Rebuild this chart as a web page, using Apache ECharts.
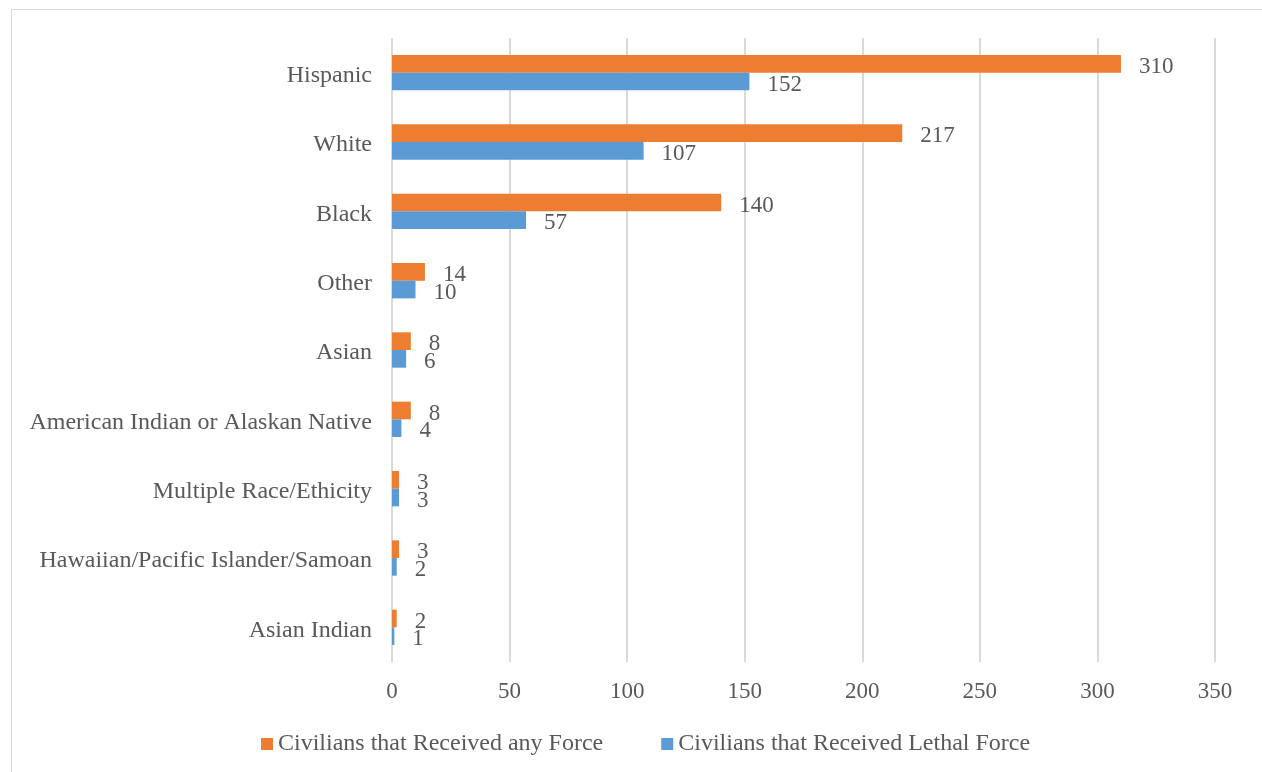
<!DOCTYPE html>
<html>
<head>
<meta charset="utf-8">
<script src="https://cdn.jsdelivr.net/npm/echarts@6/dist/echarts.min.js"></script>
<style>
  html, body { margin: 0; padding: 0; background: #fff; }
  #frame { position: absolute; left: 11px; top: 9px; width: 1260px; height: 775px; border: 1px solid #d9d9d9; box-sizing: border-box; }
  #chart { position: absolute; left: 0; top: 0; width: 1262px; height: 772px; }
</style>
</head>
<body>
<div id="frame"></div>
<div id="chart"></div>
<script>
// categories listed bottom to top
const categories = [
  'Asian Indian',
  'Hawaiian/Pacific Islander/Samoan',
  'Multiple Race/Ethicity',
  'American Indian or Alaskan Native',
  'Asian',
  'Other',
  'Black',
  'White',
  'Hispanic'
];
const anyForce = [2, 3, 3, 8, 8, 14, 140, 217, 310];
const lethalForce = [1, 2, 3, 4, 6, 10, 57, 107, 152];
const seriesNames = ['Civilians that Received any Force', 'Civilians that Received Lethal Force'];

const font = 'Liberation Serif';
const textColor = '#595959';

const chart = echarts.init(document.getElementById('chart'));

const labelStyle = {
  show: true,
  position: 'right',
  distance: 18,
  offset: [0, 3],
  color: textColor,
  fontFamily: font,
  fontSize: 23,
  textBorderWidth: 0,
  textBorderColor: 'transparent'
};

chart.setOption({
  animation: false,
  textStyle: { fontFamily: font },
  grid: { left: 392, right: 47, top: 38, bottom: 110, containLabel: false },
  legend: {
    top: 727,
    left: 256,
    itemWidth: 12,
    itemHeight: 12,
    itemGap: 58,
    icon: 'rect',
    textStyle: { color: textColor, fontFamily: font, fontSize: 24 },
    data: seriesNames
  },
  xAxis: {
    type: 'value',
    min: 0,
    max: 350,
    interval: 50,
    axisLine: { show: false },
    axisTick: { show: false },
    axisLabel: { color: textColor, fontFamily: font, fontSize: 23, margin: 18 },
    splitLine: { lineStyle: { color: '#d9d9d9', width: 2 } }
  },
  yAxis: {
    type: 'category',
    data: categories,
    axisLine: { show: false },
    axisTick: { show: false },
    axisLabel: {
      margin: 20,
      formatter: v => '{c|' + v + '}',
      rich: {
        c: { color: textColor, fontFamily: font, fontSize: 24, padding: [6, 0, 0, 0] }
      }
    }
  },
  series: [
    {
      name: seriesNames[0],
      type: 'bar',
      data: anyForce,
      itemStyle: { color: '#ED7D31' },
      barCategoryGap: '49%',
      barGap: '0%',
      label: labelStyle
    },
    {
      name: seriesNames[1],
      type: 'bar',
      data: lethalForce,
      itemStyle: { color: '#5B9BD5' },
      barCategoryGap: '49%',
      barGap: '0%',
      label: labelStyle
    }
  ]
});
</script>
</body>
</html>
